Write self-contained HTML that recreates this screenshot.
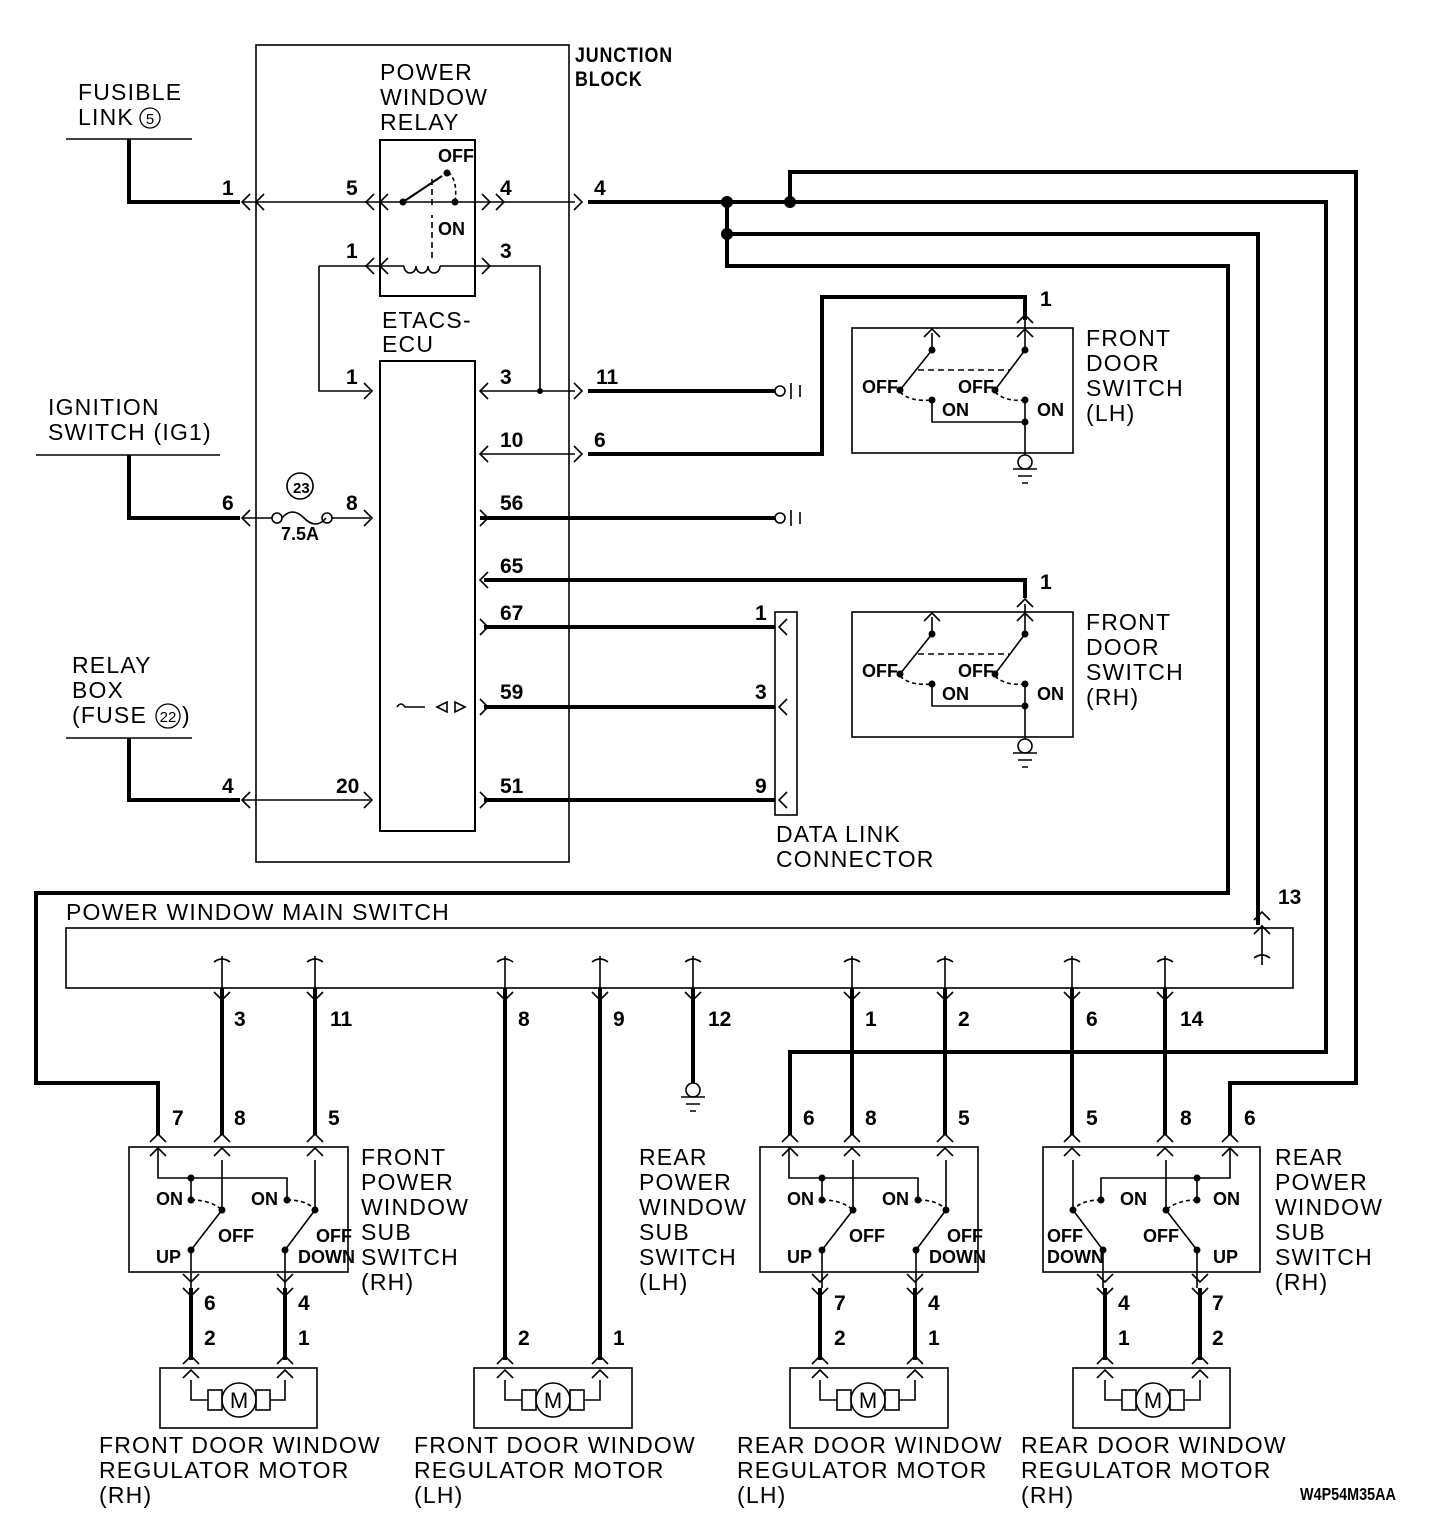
<!DOCTYPE html>
<html><head><meta charset="utf-8"><style>
html,body{margin:0;padding:0;background:#fff}
svg{display:block}
text{font-family:"Liberation Sans",sans-serif;fill:#000}
.l{font-size:23px;letter-spacing:1.2px}
.p{font-size:21px;font-weight:bold}
.s{font-size:18px;font-weight:bold}
</style></head><body>
<svg width="1456" height="1528" viewBox="0 0 1456 1528" xmlns="http://www.w3.org/2000/svg">
<g fill="none" stroke="#000" stroke-width="1.6">
<rect x="256" y="45" width="313" height="817"/>
<rect x="380" y="140" width="95" height="156" stroke-width="2"/>
<rect x="380" y="361" width="95" height="470" stroke-width="2"/>
<path d="M243 202H575"/>
<path d="M243 518H272M332 518H370"/>
<path d="M243 800H370"/>
<path d="M319 266H404M440 266H540V391M319 266V391H370"/>
<path d="M480 391H575M480 454H575"/>
<path d="M404 266a6 7 0 1 0 12 0a6 7 0 1 0 12 0a6 7 0 1 0 12 0"/>
<path d="M432 258V215M432 205V175" stroke-dasharray="6 4"/>
<path d="M403 202L442 176" stroke-width="2"/>
<path d="M448 172q10 8 7 30" stroke-dasharray="4 3"/>
<circle cx="277" cy="518" r="5"/><circle cx="327" cy="518" r="5"/>
<path d="M282 518q10-12 22 0t22 0"/>
<circle cx="300" cy="486" r="13"/>
<path d="M250 194l-8 8l8 8M264 194l-8 8l8 8M374 194l-8 8l8 8M388 194l-8 8l8 8M374 258l-8 8l8 8M388 258l-8 8l8 8M250 510l-8 8l8 8M250 792l-8 8l8 8M488 383l-8 8l8 8M488 446l-8 8l8 8M488 572l-8 8l8 8M787 619l-8 8l8 8M787 699l-8 8l8 8M787 792l-8 8l8 8"/>
<path d="M482 194l8 8l-8 8M496 194l8 8l-8 8M574 194l8 8l-8 8M482 258l8 8l-8 8M364 383l8 8l-8 8M364 510l8 8l-8 8M364 792l8 8l-8 8M574 383l8 8l-8 8M574 446l8 8l-8 8M480 510l8 8l-8 8M480 619l8 8l-8 8M480 699l8 8l-8 8M480 792l8 8l-8 8"/>
<path d="M425 707h-20q-4 -6-8 0M437 707l10-5v10zM465 707l-10-5v10z"/>
<rect x="775" y="612" width="22" height="203"/>
<circle cx="780" cy="391" r="5"/><path d="M791 383v16M800 385v12"/>
<circle cx="780" cy="518" r="5"/><path d="M791 510v16M800 512v12"/>
<rect x="852" y="328" width="221" height="125"/>
<rect x="852" y="612" width="221" height="125"/>
<rect x="66" y="928" width="1227" height="60"/>
<rect x="129" y="1147" width="219" height="125"/>
<rect x="760" y="1147" width="218" height="125"/>
<rect x="1043" y="1147" width="217" height="125"/>
<rect x="160" y="1368" width="157" height="60"/>
<rect x="474" y="1368" width="158" height="60"/>
<rect x="790" y="1368" width="158" height="60"/>
<rect x="1073" y="1368" width="157" height="60"/>
<path d="M66 139H192M36 455H220M66 738H192"/>
<circle cx="693" cy="1090" r="7"/><path d="M681 1097h24M686 1104h14M690 1111h6"/>
</g>

<g fill="none" stroke="#000" stroke-width="4">
<path d="M129 139V202H240"/>
<path d="M129 455V518H240"/>
<path d="M129 738V800H240"/>
<path d="M588 202H1326V1052H790V1135"/>
<path d="M790 202V172H1356V1083H1230V1135"/>
<path d="M727 202V266H1228V893H36V1083H158V1135"/>
<path d="M727 234H1258V925"/>
<path d="M588 391H775"/>
<path d="M588 454H822V297H1025V320"/>
<path d="M480 518H775"/>
<path d="M484 580H1025V598"/>
<path d="M484 627H775M484 707H775M484 800H775"/>
<path d="M222 988V1135M315 988V1135M505 988V1360M600 988V1360M693 988V1083M852 988V1135M945 988V1135M1072 988V1135M1165 988V1135"/>
<path d="M191 1288V1360M285 1288V1360M820 1288V1360M915 1288V1360M1105 1288V1360M1200 1288V1360"/>
</g>
<circle cx="727" cy="202" r="6"/><circle cx="790" cy="202" r="6"/><circle cx="727" cy="234" r="6"/>

<g fill="none" stroke="#000" stroke-width="1.6">
<path d="M222 956v32M315 956v32M505 956v32M600 956v32M693 956v32M852 956v32M945 956v32M1072 956v32M1165 956v32M1262 925v40"/>
<path d="M214 962q8-6 16 0M307 962q8-6 16 0M497 962q8-6 16 0M592 962q8-6 16 0M685 962q8-6 16 0M844 962q8-6 16 0M937 962q8-6 16 0M1064 962q8-6 16 0M1157 962q8-6 16 0M1254 958q8-6 16 0"/>
<path d="M214 992l8 8l8-8M307 992l8 8l8-8M497 992l8 8l8-8M592 992l8 8l8-8M685 992l8 8l8-8M844 992l8 8l8-8M937 992l8 8l8-8M1064 992l8 8l8-8M1157 992l8 8l8-8M1254 920l8-8l8 8M1254 934l8-8l8 8"/>
<path d="M150 1142l8-8l8 8M150 1156l8-8l8 8M214 1142l8-8l8 8M214 1156l8-8l8 8M307 1142l8-8l8 8M307 1156l8-8l8 8"/>
<path d="M782 1142l8-8l8 8M782 1156l8-8l8 8M844 1142l8-8l8 8M844 1156l8-8l8 8M937 1142l8-8l8 8M937 1156l8-8l8 8"/>
<path d="M1064 1142l8-8l8 8M1064 1156l8-8l8 8M1157 1142l8-8l8 8M1157 1156l8-8l8 8M1222 1142l8-8l8 8M1222 1156l8-8l8 8"/>
<path d="M183 1364l8-8l8 8M183 1378l8-8l8 8M277 1364l8-8l8 8M277 1378l8-8l8 8M497 1364l8-8l8 8M497 1378l8-8l8 8M592 1364l8-8l8 8M592 1378l8-8l8 8M812 1364l8-8l8 8M812 1378l8-8l8 8M907 1364l8-8l8 8M907 1378l8-8l8 8M1097 1364l8-8l8 8M1097 1378l8-8l8 8M1192 1364l8-8l8 8M1192 1378l8-8l8 8"/>
<path d="M183 1274l8 8l8-8M183 1288l8 8l8-8M277 1274l8 8l8-8M277 1288l8 8l8-8M812 1274l8 8l8-8M812 1288l8 8l8-8M907 1274l8 8l8-8M907 1288l8 8l8-8M1097 1274l8 8l8-8M1097 1288l8 8l8-8M1192 1274l8 8l8-8M1192 1288l8 8l8-8"/>
<path d="M1017 323l8-8l8 8M1017 337l8-8l8 8M924 337l8-8l8 8M1017 607l8-8l8 8M1017 621l8-8l8 8M924 621l8-8l8 8"/>
</g>

<g fill="none" stroke="#000" stroke-width="1.6">
<path d="M932 333V350L900 390M1025 320V350L995 390"/>
<path d="M918 370H1010" stroke-dasharray="6 4"/>
<path d="M900 392q10 10 32 8M995 392q10 10 30 8" stroke-dasharray="4 3"/>
<path d="M932 400V422H1025M1025 400V455"/>
<circle cx="1025" cy="462" r="7"/><path d="M1013 469h24M1018 476h14M1022 483h6"/>
</g>
<g fill="#000"><circle cx="932" cy="350" r="3.5"/><circle cx="1025" cy="350" r="3.5"/><circle cx="900" cy="390" r="3.5"/><circle cx="995" cy="390" r="3.5"/><circle cx="932" cy="400" r="3.5"/><circle cx="1025" cy="400" r="3.5"/><circle cx="1025" cy="422" r="3.5"/></g>
<g transform="translate(0,284)">
<g fill="none" stroke="#000" stroke-width="1.6">
<path d="M932 333V350L900 390M1025 320V350L995 390"/>
<path d="M918 370H1010" stroke-dasharray="6 4"/>
<path d="M900 392q10 10 32 8M995 392q10 10 30 8" stroke-dasharray="4 3"/>
<path d="M932 400V422H1025M1025 400V455"/>
<circle cx="1025" cy="462" r="7"/><path d="M1013 469h24M1018 476h14M1022 483h6"/>
</g>
<g fill="#000"><circle cx="932" cy="350" r="3.5"/><circle cx="1025" cy="350" r="3.5"/><circle cx="900" cy="390" r="3.5"/><circle cx="995" cy="390" r="3.5"/><circle cx="932" cy="400" r="3.5"/><circle cx="1025" cy="400" r="3.5"/><circle cx="1025" cy="422" r="3.5"/></g>
</g>
<g><text x="862" y="393" class="s">OFF</text><text x="958" y="393" class="s">OFF</text><text x="942" y="416" class="s">ON</text><text x="1037" y="416" class="s">ON</text>
<text x="862" y="677" class="s">OFF</text><text x="958" y="677" class="s">OFF</text><text x="942" y="700" class="s">ON</text><text x="1037" y="700" class="s">ON</text></g>

<g>
<g fill="none" stroke="#000" stroke-width="1.6">
<path d="M158 1147V1178H287V1200M191 1178V1200M222 1160V1210L191 1250V1288M315 1160V1210L285 1250V1288"/>
<path d="M191 1200q20 0 31 10M287 1200q20 0 28 10" stroke-dasharray="4 3"/>
</g>
<g fill="#000"><circle cx="191" cy="1178" r="3.5"/><circle cx="191" cy="1200" r="3.5"/><circle cx="287" cy="1200" r="3.5"/><circle cx="222" cy="1210" r="3.5"/><circle cx="315" cy="1210" r="3.5"/><circle cx="191" cy="1250" r="3.5"/><circle cx="285" cy="1250" r="3.5"/></g>
</g>
<g transform="translate(631,0)">
<g fill="none" stroke="#000" stroke-width="1.6">
<path d="M158 1147V1178H287V1200M191 1178V1200M222 1160V1210L191 1250V1288M315 1160V1210L285 1250V1288"/>
<path d="M191 1200q20 0 31 10M287 1200q20 0 28 10" stroke-dasharray="4 3"/>
</g>
<g fill="#000"><circle cx="191" cy="1178" r="3.5"/><circle cx="191" cy="1200" r="3.5"/><circle cx="287" cy="1200" r="3.5"/><circle cx="222" cy="1210" r="3.5"/><circle cx="315" cy="1210" r="3.5"/><circle cx="191" cy="1250" r="3.5"/><circle cx="285" cy="1250" r="3.5"/></g>
</g>
<g transform="translate(1388,0) scale(-1,1)">
<g fill="none" stroke="#000" stroke-width="1.6">
<path d="M158 1147V1178H287V1200M191 1178V1200M222 1160V1210L191 1250V1288M315 1160V1210L285 1250V1288"/>
<path d="M191 1200q20 0 31 10M287 1200q20 0 28 10" stroke-dasharray="4 3"/>
</g>
<g fill="#000"><circle cx="191" cy="1178" r="3.5"/><circle cx="191" cy="1200" r="3.5"/><circle cx="287" cy="1200" r="3.5"/><circle cx="222" cy="1210" r="3.5"/><circle cx="315" cy="1210" r="3.5"/><circle cx="191" cy="1250" r="3.5"/><circle cx="285" cy="1250" r="3.5"/></g>
</g>
<g>
<text x="156" y="1205" class="s">ON</text><text x="251" y="1205" class="s">ON</text><text x="218" y="1242" class="s">OFF</text><text x="316" y="1242" class="s">OFF</text><text x="156" y="1263" class="s">UP</text><text x="298" y="1263" class="s">DOWN</text>
<text x="787" y="1205" class="s">ON</text><text x="882" y="1205" class="s">ON</text><text x="849" y="1242" class="s">OFF</text><text x="947" y="1242" class="s">OFF</text><text x="787" y="1263" class="s">UP</text><text x="929" y="1263" class="s">DOWN</text>
<text x="1120" y="1205" class="s">ON</text><text x="1213" y="1205" class="s">ON</text><text x="1047" y="1242" class="s">OFF</text><text x="1143" y="1242" class="s">OFF</text><text x="1047" y="1263" class="s">DOWN</text><text x="1213" y="1263" class="s">UP</text>
</g>

<g fill="none" stroke="#000" stroke-width="1.6">
<path d="M191 1380V1400H208M270 1400H285V1380"/><rect x="208" y="1390" width="14" height="20"/><rect x="256" y="1390" width="14" height="20"/><circle cx="239" cy="1400" r="17"/>
<path d="M505 1380V1400H522M584 1400H600V1380"/><rect x="522" y="1390" width="14" height="20"/><rect x="570" y="1390" width="14" height="20"/><circle cx="553" cy="1400" r="17"/>
<path d="M820 1380V1400H837M899 1400H915V1380"/><rect x="837" y="1390" width="14" height="20"/><rect x="885" y="1390" width="14" height="20"/><circle cx="868" cy="1400" r="17"/>
<path d="M1105 1380V1400H1122M1184 1400H1200V1380"/><rect x="1122" y="1390" width="14" height="20"/><rect x="1170" y="1390" width="14" height="20"/><circle cx="1153" cy="1400" r="17"/>
</g>
<g font-size="22" text-anchor="middle"><text x="239" y="1408">M</text><text x="553" y="1408">M</text><text x="868" y="1408">M</text><text x="1153" y="1408">M</text></g>

<g fill="#000"><circle cx="403" cy="202" r="3.5"/><circle cx="447" cy="173" r="3.5"/><circle cx="455" cy="202" r="3.5"/><circle cx="540" cy="391" r="3"/></g>

<g class="l">
<text x="78" y="100">FUSIBLE</text><text x="78" y="125">LINK</text>
<circle cx="150" cy="118" r="10" fill="none" stroke="#000" stroke-width="1.3"/><text x="150" y="124" font-size="15" text-anchor="middle" letter-spacing="0">5</text>
<text x="380" y="80">POWER</text><text x="380" y="105">WINDOW</text><text x="380" y="130">RELAY</text>
<text x="382" y="328">ETACS-</text><text x="382" y="352">ECU</text>
<text x="48" y="415">IGNITION</text><text x="48" y="440">SWITCH (IG1)</text>
<text x="72" y="673">RELAY</text><text x="72" y="698">BOX</text><text x="72" y="723">(FUSE</text>
<circle cx="168" cy="716" r="12" fill="none" stroke="#000" stroke-width="1.3"/><text x="168" y="722" font-size="15" text-anchor="middle" letter-spacing="0">22</text><text x="182" y="723">)</text>
<text x="1086" y="346">FRONT</text><text x="1086" y="371">DOOR</text><text x="1086" y="396">SWITCH</text><text x="1086" y="421">(LH)</text>
<text x="1086" y="630">FRONT</text><text x="1086" y="655">DOOR</text><text x="1086" y="680">SWITCH</text><text x="1086" y="705">(RH)</text>
<text x="776" y="842">DATA LINK</text><text x="776" y="867">CONNECTOR</text>
<text x="66" y="920">POWER WINDOW MAIN SWITCH</text>
<text x="361" y="1165">FRONT</text><text x="361" y="1190">POWER</text><text x="361" y="1215">WINDOW</text><text x="361" y="1240">SUB</text><text x="361" y="1265">SWITCH</text><text x="361" y="1290">(RH)</text>
<text x="639" y="1165">REAR</text><text x="639" y="1190">POWER</text><text x="639" y="1215">WINDOW</text><text x="639" y="1240">SUB</text><text x="639" y="1265">SWITCH</text><text x="639" y="1290">(LH)</text>
<text x="1275" y="1165">REAR</text><text x="1275" y="1190">POWER</text><text x="1275" y="1215">WINDOW</text><text x="1275" y="1240">SUB</text><text x="1275" y="1265">SWITCH</text><text x="1275" y="1290">(RH)</text>
<text x="99" y="1453">FRONT DOOR WINDOW</text><text x="99" y="1478">REGULATOR MOTOR</text><text x="99" y="1503">(RH)</text>
<text x="414" y="1453">FRONT DOOR WINDOW</text><text x="414" y="1478">REGULATOR MOTOR</text><text x="414" y="1503">(LH)</text>
<text x="737" y="1453">REAR DOOR WINDOW</text><text x="737" y="1478">REGULATOR MOTOR</text><text x="737" y="1503">(LH)</text>
<text x="1021" y="1453">REAR DOOR WINDOW</text><text x="1021" y="1478">REGULATOR MOTOR</text><text x="1021" y="1503">(RH)</text>
</g>
<text x="575" y="62" class="p" transform="translate(575,0) scale(0.85,1) translate(-575,0)" letter-spacing="1">JUNCTION</text>
<text x="575" y="86" class="p" transform="translate(575,0) scale(0.85,1) translate(-575,0)" letter-spacing="1">BLOCK</text>
<text x="1300" y="1500" class="s" transform="translate(1300,0) scale(0.8,1) translate(-1300,0)">W4P54M35AA</text>
<g class="s"><text x="438" y="162">OFF</text><text x="438" y="235">ON</text><text x="281" y="540">7.5A</text><text x="293" y="493" font-size="15">23</text></g>

<g class="p">
<text x="222" y="195">1</text><text x="346" y="195">5</text><text x="500" y="195">4</text><text x="594" y="195">4</text>
<text x="346" y="258">1</text><text x="500" y="258">3</text>
<text x="346" y="384">1</text><text x="500" y="384">3</text><text x="596" y="384">11</text>
<text x="500" y="447">10</text><text x="594" y="447">6</text>
<text x="222" y="510">6</text><text x="346" y="510">8</text><text x="500" y="510">56</text>
<text x="500" y="573">65</text><text x="500" y="620">67</text><text x="500" y="699">59</text><text x="500" y="793">51</text>
<text x="755" y="620">1</text><text x="755" y="699">3</text><text x="755" y="793">9</text>
<text x="222" y="793">4</text><text x="336" y="793">20</text>
<text x="1040" y="306">1</text><text x="1040" y="589">1</text>
<text x="1278" y="904">13</text>
<text x="234" y="1026">3</text><text x="330" y="1026">11</text><text x="518" y="1026">8</text><text x="613" y="1026">9</text><text x="708" y="1026">12</text><text x="865" y="1026">1</text><text x="958" y="1026">2</text><text x="1086" y="1026">6</text><text x="1180" y="1026">14</text>
<text x="172" y="1125">7</text><text x="234" y="1125">8</text><text x="328" y="1125">5</text>
<text x="803" y="1125">6</text><text x="865" y="1125">8</text><text x="958" y="1125">5</text>
<text x="1086" y="1125">5</text><text x="1180" y="1125">8</text><text x="1244" y="1125">6</text>
<text x="204" y="1310">6</text><text x="298" y="1310">4</text><text x="204" y="1345">2</text><text x="298" y="1345">1</text>
<text x="518" y="1345">2</text><text x="613" y="1345">1</text>
<text x="834" y="1310">7</text><text x="928" y="1310">4</text><text x="834" y="1345">2</text><text x="928" y="1345">1</text>
<text x="1118" y="1310">4</text><text x="1212" y="1310">7</text><text x="1118" y="1345">1</text><text x="1212" y="1345">2</text>
</g>
</svg>
</body></html>
